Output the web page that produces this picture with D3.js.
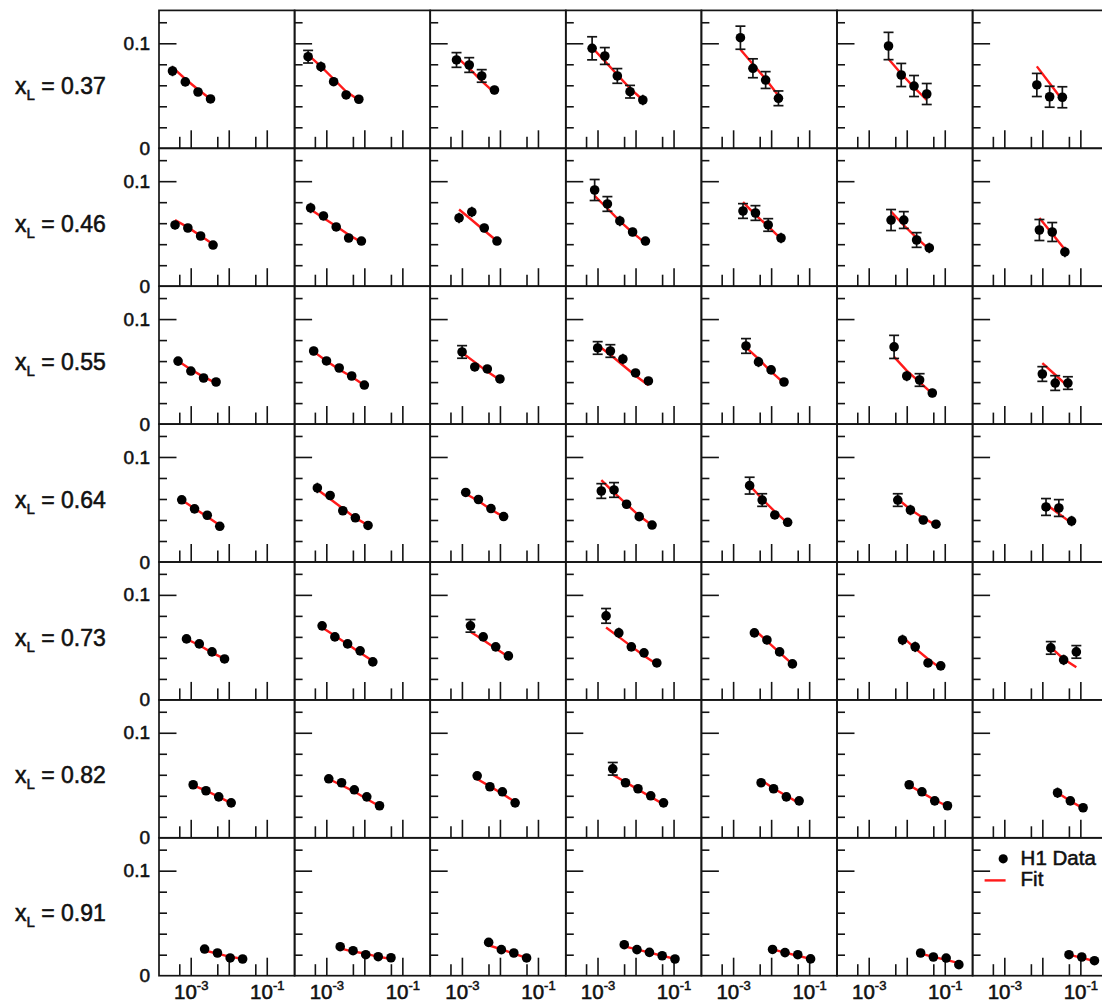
<!DOCTYPE html>
<html>
<head>
<meta charset="utf-8">
<script src="https://cdn.jsdelivr.net/npm/d3@7"></script>
<style>
  body { margin: 0; background: #fff; }
  text { font-family: "Liberation Sans", Arial, Helvetica, sans-serif; fill: #111; stroke: #111; stroke-width: 0.55px; }
</style>
</head>
<body>
<div id="chart"></div>
<script>
// x_L bins (one per row)
const xlLabels = ["0.37", "0.46", "0.55", "0.64", "0.73", "0.82", "0.91"];

// beta bin centres per row (7 bins, columns use a window of them)
const betaBins = [
  [3.32e-4, 7.21e-4, 1.557e-3, 3.32e-3, 7.17e-3, 1.557e-2, 3.36e-2],
  [3.87e-4, 8.41e-4, 1.82e-3, 3.87e-3, 8.37e-3, 1.82e-2, 3.92e-2],
  [4.65e-4, 1.01e-3, 2.18e-3, 4.65e-3, 1.00e-2, 2.18e-2, 4.70e-2],
  [5.81e-4, 1.26e-3, 2.72e-3, 5.81e-3, 1.25e-2, 2.72e-2, 5.88e-2],
  [7.75e-4, 1.68e-3, 3.63e-3, 7.75e-3, 1.67e-2, 3.63e-2, 7.84e-2],
  [1.16e-3, 2.52e-3, 5.45e-3, 1.16e-2, 2.51e-2, 5.45e-2, 0.118],
  [2.32e-3, 5.05e-3, 1.09e-2, 2.32e-2, 5.02e-2, 0.109, 0.235]
];
// first beta bin used by each column
const firstBin = [0, 0, 1, 1, 2, 3, 4];

// measured values [row][col][point]
const dataVals = [
  [[0.0736,0.0632,0.0536,0.0470],[0.0872,0.0777,0.0634,0.0508,0.0467],[0.0841,0.0793,0.0689,0.0555],[0.0952,0.0879,0.0689,0.0539,0.0460],[0.1053,0.0762,0.0650,0.0476],[0.0974,0.0698,0.0593,0.0517],[0.0603,0.0491,0.0486]],
  [[0.0583,0.0554,0.0478,0.0392],[0.0745,0.0669,0.0564,0.0459,0.0430],[0.0650,0.0707,0.0554,0.0430],[0.0916,0.0783,0.0621,0.0516,0.0430],[0.0716,0.0697,0.0583,0.0459],[0.0630,0.0630,0.0440,0.0364],[0.0535,0.0516,0.0326]],
  [[0.0600,0.0505,0.0439,0.0401],[0.0696,0.0601,0.0534,0.0458,0.0372],[0.0687,0.0544,0.0525,0.0430],[0.0725,0.0696,0.0620,0.0487,0.0411],[0.0744,0.0592,0.0516,0.0401],[0.0735,0.0458,0.0420,0.0296],[0.0477,0.0391,0.0391]],
  [[0.0592,0.0506,0.0445,0.0340],[0.0705,0.0633,0.0488,0.0421,0.0348],[0.0662,0.0595,0.0509,0.0433],[0.0676,0.0686,0.0550,0.0432,0.0352],[0.0727,0.0590,0.0448,0.0378],[0.0590,0.0495,0.0400,0.0360],[0.0524,0.0514,0.0390]],
  [[0.0581,0.0533,0.0457,0.0390],[0.0705,0.0600,0.0533,0.0467,0.0362],[0.0705,0.0600,0.0505,0.0419],[0.0800,0.0638,0.0505,0.0448,0.0352],[0.0638,0.0571,0.0457,0.0343],[0.0571,0.0505,0.0352,0.0324],[0.0495,0.0381,0.0457]],
  [[0.0505,0.0448,0.0390,0.0333],[0.0562,0.0524,0.0457,0.0390,0.0305],[0.0590,0.0486,0.0438,0.0333],[0.0657,0.0524,0.0467,0.0400,0.0333],[0.0524,0.0467,0.0390,0.0352],[0.0505,0.0438,0.0352,0.0305],[0.0429,0.0352,0.0286]],
  [[0.0254,0.0216,0.0169,0.0159],[0.0276,0.0238,0.0200,0.0181,0.0171],[0.0317,0.0248,0.0216,0.0169],[0.0295,0.0248,0.0222,0.0190,0.0159],[0.0250,0.0220,0.0200,0.0160],[0.0216,0.0178,0.0168,0.0105],[0.0200,0.0178,0.0143]]
];

// total uncertainties [row][col][point]
const dataErrs = [
  [[0.005,0.004,0.003,0.003],[0.006,0.005,0.004,0.003,0.003],[0.007,0.007,0.006,0.004],[0.011,0.008,0.007,0.006,0.005],[0.011,0.009,0.008,0.007],[0.013,0.011,0.010,0.010],[0.011,0.010,0.010]],
  [[0.004,0.003,0.003,0.003],[0.005,0.004,0.003,0.003,0.003],[0.005,0.005,0.004,0.003],[0.010,0.007,0.005,0.004,0.004],[0.007,0.007,0.006,0.005],[0.010,0.008,0.007,0.005],[0.010,0.009,0.005]],
  [[0.003,0.003,0.003,0.003],[0.004,0.003,0.003,0.003,0.003],[0.006,0.004,0.003,0.003],[0.006,0.006,0.005,0.003,0.003],[0.007,0.005,0.004,0.003],[0.011,0.005,0.006,0.004],[0.007,0.007,0.006]],
  [[0.003,0.003,0.003,0.003],[0.005,0.004,0.003,0.003,0.003],[0.004,0.004,0.003,0.003],[0.007,0.007,0.004,0.003,0.003],[0.008,0.006,0.003,0.003],[0.006,0.005,0.004,0.003],[0.008,0.008,0.005]],
  [[0.003,0.003,0.003,0.003],[0.004,0.004,0.003,0.003,0.003],[0.006,0.003,0.003,0.003],[0.007,0.005,0.003,0.003,0.003],[0.004,0.004,0.003,0.003],[0.005,0.005,0.003,0.003],[0.006,0.005,0.006]],
  [[0.003,0.003,0.003,0.003],[0.003,0.003,0.003,0.003,0.003],[0.003,0.003,0.003,0.003],[0.006,0.003,0.003,0.003,0.003],[0.003,0.003,0.003,0.003],[0.004,0.003,0.003,0.003],[0.005,0.003,0.003]],
  [[0.003,0.003,0.003,0.003],[0.004,0.003,0.003,0.003,0.003],[0.004,0.003,0.003,0.003],[0.004,0.003,0.003,0.003,0.003],[0.003,0.003,0.003,0.003],[0.003,0.003,0.003,0.003],[0.003,0.003,0.003]]
];

// fit curve evaluated at the same beta bins [row][col][point]
const fitVals = [
  [[0.077,0.066,0.056,0.047],[0.089,0.078,0.066,0.054,0.046],[0.087,0.076,0.064,0.053],[0.096,0.083,0.070,0.057,0.046],[0.094,0.080,0.066,0.050],[0.085,0.071,0.058,0.046],[0.078,0.062,0.046]],
  [[0.063,0.056,0.048,0.040],[0.073,0.065,0.057,0.049,0.042],[0.073,0.063,0.053,0.043],[0.086,0.074,0.062,0.051,0.041],[0.080,0.068,0.057,0.045],[0.071,0.058,0.046,0.035],[0.065,0.050,0.035]],
  [[0.060,0.052,0.045,0.039],[0.069,0.060,0.052,0.045,0.037],[0.068,0.059,0.050,0.042],[0.075,0.066,0.056,0.046,0.037],[0.073,0.062,0.050,0.039],[0.064,0.051,0.040,0.029],[0.058,0.047,0.036]],
  [[0.059,0.051,0.043,0.035],[0.069,0.060,0.051,0.042,0.035],[0.065,0.058,0.050,0.043],[0.078,0.066,0.055,0.044,0.035],[0.073,0.060,0.048,0.037],[0.060,0.050,0.042,0.035],[0.055,0.046,0.037]],
  [[0.058,0.052,0.045,0.039],[0.069,0.061,0.053,0.045,0.037],[0.065,0.057,0.049,0.041],[0.069,0.060,0.051,0.042,0.034],[0.067,0.056,0.045,0.034],[0.060,0.049,0.039,0.030],[0.050,0.039,0.031]],
  [[0.050,0.045,0.039,0.033],[0.056,0.050,0.044,0.037,0.030],[0.056,0.049,0.042,0.034],[0.060,0.053,0.046,0.039,0.032],[0.055,0.047,0.040,0.033],[0.050,0.043,0.036,0.030],[0.043,0.035,0.028]],
  [[0.024,0.021,0.018,0.016],[0.026,0.023,0.021,0.018,0.016],[0.029,0.025,0.021,0.017],[0.028,0.025,0.022,0.019,0.016],[0.025,0.022,0.019,0.016],[0.021,0.018,0.015,0.012],[0.020,0.017,0.014]]
];

// axis ticks
const xMajorTicks = [1e-3, 1e-2, 1e-1];
const xMinorTicks = [5e-4, 5e-3, 5e-2];
const xLabelTicks = [1e-3, 1e-1];
const xLabelExps = ["-3", "-1"];
const yMajorTicks = [0.1];
const yMinorTicks = [0.02, 0.04, 0.06, 0.08, 0.12];
const yLabelTicks = [0, 0.1];

const width = 1102, height = 1005;
const gridLeft = 159, gridTop = 10.4;
const cellW = 135.6, cellH = 137.9;
const ink = "#141414";

const svg = d3.select("#chart").append("svg")
  .attr("width", width)
  .attr("height", height);

const xScale = d3.scaleLog().domain([1.465e-4, 0.54]).range([0, cellW]);
const yScale = d3.scaleLinear().domain([0, 0.1313]).range([cellH, 0]);

const fitLine = d3.line()
  .x(d => xScale(d.beta))
  .y(d => yScale(d.fit));

function styleAxis(sel) {
  sel.select(".domain").remove();
  sel.selectAll(".tick line").attr("stroke", ink).attr("stroke-width", 1.6);
  sel.selectAll(".tick text").remove();
}

xlLabels.forEach((xl, r) => {
  for (let c = 0; c < 7; c++) {
    const g = svg.append("g")
      .attr("transform", `translate(${gridLeft + c * cellW}, ${gridTop + r * cellH})`);

    // y ticks (inside, on left edge)
    g.append("g").call(d3.axisRight(yScale).tickValues(yMinorTicks).tickSize(8).tickFormat(""))
      .call(styleAxis);
    g.append("g").call(d3.axisRight(yScale).tickValues(yMajorTicks).tickSize(17.5).tickFormat(""))
      .call(styleAxis);

    // x ticks (inside, on bottom edge)
    g.append("g").attr("transform", `translate(0, ${cellH})`)
      .call(d3.axisTop(xScale).tickValues(xMinorTicks).tickSize(11.5).tickFormat(""))
      .call(styleAxis);
    g.append("g").attr("transform", `translate(0, ${cellH})`)
      .call(d3.axisTop(xScale).tickValues(xMajorTicks).tickSize(18).tickFormat(""))
      .call(styleAxis);

    // frame
    g.append("rect")
      .attr("x", 0).attr("y", 0)
      .attr("width", cellW).attr("height", cellH)
      .attr("fill", "none")
      .attr("stroke", ink)
      .attr("stroke-width", 1.7);

    const b0 = firstBin[c];
    const pts = dataVals[r][c].map((v, i) => ({
      beta: betaBins[r][b0 + i],
      y: v,
      err: dataErrs[r][c][i],
      fit: fitVals[r][c][i]
    }));

    g.append("path")
      .datum(pts)
      .attr("d", fitLine)
      .attr("fill", "none")
      .attr("stroke", "#ff1a1a")
      .attr("stroke-width", 2.4);

    const mR = 4.8;
    const eb = g.selectAll(".err").data(pts).join("g").attr("class", "err");
    eb.append("line")
      .attr("x1", d => xScale(d.beta)).attr("x2", d => xScale(d.beta))
      .attr("y1", d => yScale(d.y + d.err)).attr("y2", d => yScale(d.y - d.err))
      .attr("stroke", ink).attr("stroke-width", 1.7);
    eb.filter(d => yScale(0) - yScale(d.err) > mR + 1)
      .each(function (d) {
        const s = d3.select(this);
        [d.y + d.err, d.y - d.err].forEach(v => {
          s.append("line")
            .attr("x1", xScale(d.beta) - 5).attr("x2", xScale(d.beta) + 5)
            .attr("y1", yScale(v)).attr("y2", yScale(v))
            .attr("stroke", ink).attr("stroke-width", 1.7);
        });
      });

    g.selectAll(".pt").data(pts).join("circle")
      .attr("class", "pt")
      .attr("cx", d => xScale(d.beta))
      .attr("cy", d => yScale(d.y))
      .attr("r", mR)
      .attr("fill", "#000");

    // y labels on first column
    if (c === 0) {
      const ya = g.append("g")
        .call(d3.axisLeft(yScale).tickValues(yLabelTicks).tickSize(0).tickPadding(9)
          .tickFormat(d => d === 0 ? "0" : "0.1"));
      ya.select(".domain").remove();
      ya.selectAll(".tick text")
        .attr("font-size", 19)
        .attr("font-family", "Liberation Sans, Arial, sans-serif")
        .attr("fill", "#111");
    }

    // x labels on bottom row
    if (r === xlLabels.length - 1) {
      const xa = g.append("g").attr("transform", `translate(0, ${cellH})`)
        .call(d3.axisBottom(xScale).tickValues(xLabelTicks).tickSize(0).tickFormat(""));
      xa.select(".domain").remove();
      xa.selectAll(".tick text").each(function (d, i) {
        const t = d3.select(this)
          .attr("y", 23)
          .attr("dy", null)
          .attr("font-size", 20.5)
          .attr("font-family", "Liberation Sans, Arial, sans-serif")
          .attr("fill", "#111")
          .attr("text-anchor", "middle");
        t.append("tspan").text("10");
        t.append("tspan").attr("dy", -9).attr("font-size", 13).text(xLabelExps[i]);
      });
    }
  }

  // row label
  const lbl = svg.append("text")
    .attr("x", 15)
    .attr("y", gridTop + r * cellH + 83.5)
    .attr("font-size", 23);
  lbl.append("tspan").text("x");
  lbl.append("tspan").attr("font-size", 15).attr("dy", 6).text("L");
  lbl.append("tspan").attr("dy", -6).text(" = " + xl);
});

// legend in last panel
const lg = svg.append("g")
  .attr("transform", `translate(${gridLeft + 6 * cellW}, ${gridTop + 6 * cellH})`);
lg.append("circle").attr("cx", 30.6).attr("cy", 21).attr("r", 4.6).attr("fill", "#000");
lg.append("text").attr("x", 48).attr("y", 27.5).attr("font-size", 20.5).text("H1 Data");
lg.append("line")
  .attr("x1", 12).attr("x2", 33)
  .attr("y1", 42.6).attr("y2", 42.6)
  .attr("stroke", "#ff1a1a").attr("stroke-width", 2.4);
lg.append("text").attr("x", 48).attr("y", 48.5).attr("font-size", 20.5).text("Fit");
</script>
</body>
</html>
